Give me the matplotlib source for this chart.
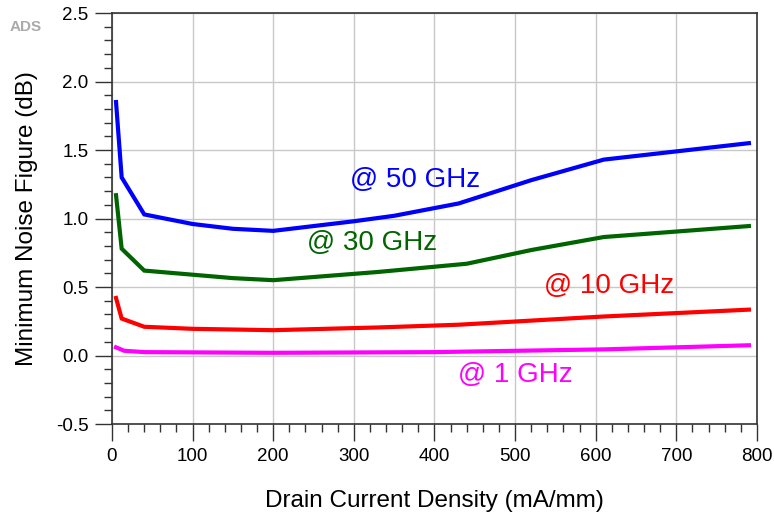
import matplotlib

matplotlib.use("Agg")
import matplotlib.pyplot as plt
from matplotlib.ticker import MultipleLocator

plt.rcParams["font.family"] = ["Liberation Sans", "DejaVu Sans"]

# Drain current density (mA/mm) vs minimum noise figure (dB)
x_50 = [5, 12, 40, 100, 150, 200, 300, 350, 430, 520, 610, 700, 790]
nf_50 = [1.85, 1.30, 1.03, 0.96, 0.925, 0.91, 0.98, 1.02, 1.11, 1.28, 1.43, 1.49, 1.55]

x_30 = [5, 12, 40, 100, 150, 200, 330, 440, 520, 610, 700, 790]
nf_30 = [1.17, 0.78, 0.62, 0.59, 0.565, 0.55, 0.61, 0.67, 0.77, 0.865, 0.905, 0.945]

x_10 = [5, 12, 40, 100, 200, 330, 430, 610, 790]
nf_10 = [0.42, 0.27, 0.21, 0.195, 0.185, 0.205, 0.225, 0.285, 0.335]

x_1 = [5, 15, 40, 200, 400, 610, 790]
nf_1 = [0.06, 0.035, 0.025, 0.02, 0.025, 0.045, 0.075]

# label text, anchored at its baseline centre (data coords)
series = [
    (x_50, nf_50, "#0000ff", "@ 50 GHz", (376, 1.232)),
    (x_30, nf_30, "#006400", "@ 30 GHz", (322, 0.77)),
    (x_10, nf_10, "#ff0000", "@ 10 GHz", (617, 0.454)),
    (x_1, nf_1, "#ff00ff", "@ 1 GHz", (500, -0.191)),
]

fig = plt.figure(figsize=(7.74, 5.14), dpi=100)
ax = fig.add_axes([0.1447, 0.175, 0.978 - 0.1447, 0.9747 - 0.175])

for xs, ys, color, label, (tx, ty) in series:
    ax.plot(xs, ys, color=color, linewidth=3.0, solid_joinstyle="miter", zorder=3)
    ax.text(tx, ty, label, color=color, fontsize=20, ha="center", va="baseline", zorder=4)

ax.set_xlim(0, 800)
ax.set_ylim(-0.5, 2.5)
ax.xaxis.set_major_locator(MultipleLocator(100))
ax.xaxis.set_minor_locator(MultipleLocator(20))
ax.yaxis.set_major_locator(MultipleLocator(0.5))
ax.yaxis.set_minor_locator(MultipleLocator(0.1))
ax.yaxis.set_major_formatter(plt.FuncFormatter(lambda v, _: f"{v:.1f}"))

ax.grid(True, which="major", color="#c8c8c8", linewidth=1.0, zorder=0)
ax.tick_params(which="major", direction="out", length=12, width=1.0,
               labelsize=13.5, pad=5, color="#333333")
ax.tick_params(which="minor", direction="out", length=6, width=1.0, color="#333333")
for s in ax.spines.values():
    s.set_color("#333333")
    s.set_linewidth(1.2)

ax.set_xlabel("Drain Current Density (mA/mm)", fontsize=17.5, labelpad=18)
ax.set_ylabel("Minimum Noise Figure (dB)", fontsize=17.5, labelpad=13)

fig.text(0.013, 0.947, "ADS", color="#aaaaaa", fontsize=11, fontweight="bold",
         ha="left", va="center")

fig.savefig("out.png", dpi=100)
